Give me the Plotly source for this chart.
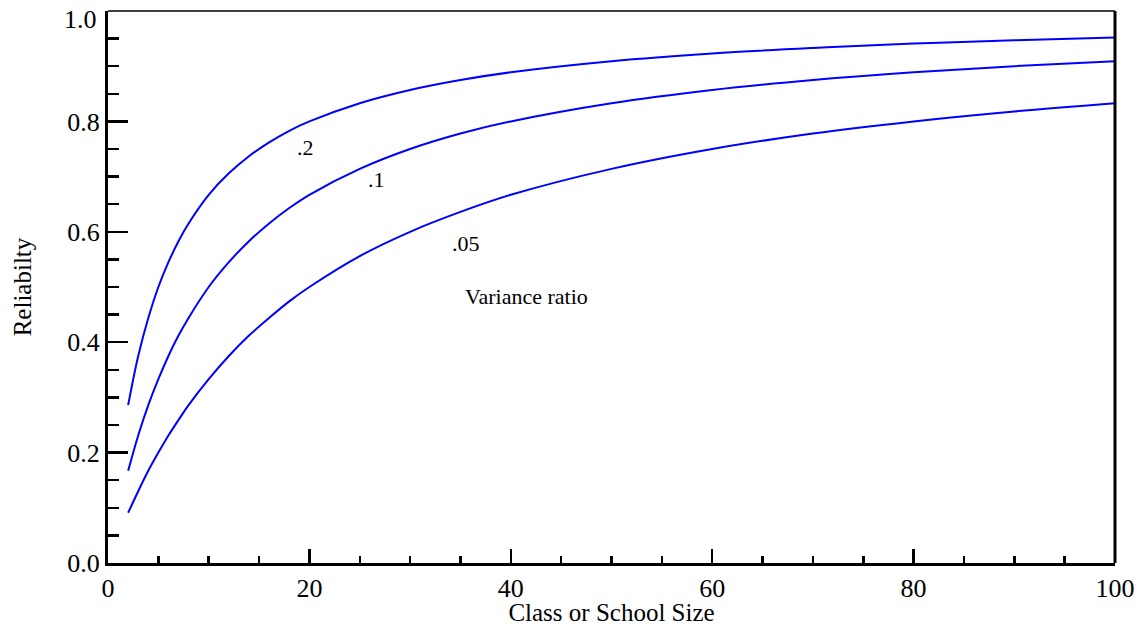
import plotly.graph_objects as go

class_size = [2, 3, 4, 5, 6, 7, 8, 10, 12, 14, 16, 18, 20, 25, 30, 35, 40, 50, 60, 70, 80, 90, 100]
rel_02 = [0.286, 0.375, 0.444, 0.500, 0.545, 0.583, 0.615, 0.667, 0.706, 0.737, 0.762, 0.783, 0.800,
          0.833, 0.857, 0.875, 0.889, 0.909, 0.923, 0.933, 0.941, 0.947, 0.952]
rel_01 = [0.167, 0.231, 0.286, 0.333, 0.375, 0.412, 0.444, 0.500, 0.545, 0.583, 0.615, 0.643, 0.667,
          0.714, 0.750, 0.778, 0.800, 0.833, 0.857, 0.875, 0.889, 0.900, 0.909]
rel_005 = [0.091, 0.130, 0.167, 0.200, 0.231, 0.259, 0.286, 0.333, 0.375, 0.412, 0.444, 0.474, 0.500,
           0.556, 0.600, 0.636, 0.667, 0.714, 0.750, 0.778, 0.800, 0.818, 0.833]

x_ticks = [0, 20, 40, 60, 80, 100]
y_ticks = [0.0, 0.2, 0.4, 0.6, 0.8, 1.0]
y_ticktext = ["0.0", "0.2", "0.4", "0.6", "0.8", ""]

labels = [".2", ".1", ".05"]
label_x = [19.6, 26.7, 35.6]
label_y = [0.752, 0.695, 0.578]

FONT = "Liberation Serif, Times New Roman, serif"

fig = go.Figure()
for ys in (rel_02, rel_01, rel_005):
    fig.add_trace(go.Scatter(x=class_size, y=ys, mode="lines",
                             line=dict(color="#0000ff", width=2, shape="spline", smoothing=1.0),
                             showlegend=False, hoverinfo="skip"))

for t, xx, yy in zip(labels, label_x, label_y):
    fig.add_annotation(x=xx, y=yy, text=t, showarrow=False, xanchor="center", yanchor="middle",
                       font=dict(family=FONT, size=22, color="black"))
fig.add_annotation(x=41.6, y=0.482, text="Variance ratio", showarrow=False, xanchor="center",
                   yanchor="middle", font=dict(family=FONT, size=22, color="black"))
# top tick label, sitting just below the top edge as in the original
fig.add_annotation(xref="paper", yref="paper", x=0, y=1, xshift=-9, yshift=-8, text="1.0",
                   showarrow=False, xanchor="right", yanchor="middle",
                   font=dict(family=FONT, size=26, color="black"))

# top and right frame lines
fig.add_shape(type="line", xref="paper", yref="paper", x0=0, x1=1, y0=1, y1=1,
              line=dict(color="black", width=1.5))
fig.add_shape(type="line", xref="paper", yref="paper", x0=1, x1=1, y0=0, y1=1,
              line=dict(color="black", width=3))

fig.update_layout(
    width=1142, height=626,
    margin=dict(l=108, r=27, t=11, b=63),
    plot_bgcolor="white", paper_bgcolor="white",
    font=dict(family=FONT, color="black"),
    hovermode=False,
    xaxis=dict(range=[0, 100], tickvals=x_ticks, showgrid=False, zeroline=False, automargin=False,
               showline=True, linewidth=3, linecolor="black",
               ticks="inside", ticklen=14, tickwidth=2.5, tickcolor="black",
               minor=dict(ticks="inside", dtick=5, tick0=0, ticklen=7, tickwidth=2.5, tickcolor="black"),
               tickfont=dict(family=FONT, size=26),
               title=dict(text="Class or School Size", font=dict(family=FONT, size=25), standoff=5)),
    yaxis=dict(range=[0, 1], tickvals=y_ticks, ticktext=y_ticktext, showgrid=False, zeroline=False,
               automargin=False,
               showline=True, linewidth=3, linecolor="black",
               ticks="inside", ticklen=20, tickwidth=2.5, tickcolor="black",
               minor=dict(ticks="inside", dtick=0.05, tick0=0, ticklen=11, tickwidth=2.5, tickcolor="black"),
               tickfont=dict(family=FONT, size=26),
               title=dict(text="Reliabilty", font=dict(family=FONT, size=25), standoff=29)),
)

fig.write_html("out.html", config={"displayModeBar": False, "staticPlot": True},
               post_script="document.body.style.margin='0px'; document.body.style.overflow='hidden';")
